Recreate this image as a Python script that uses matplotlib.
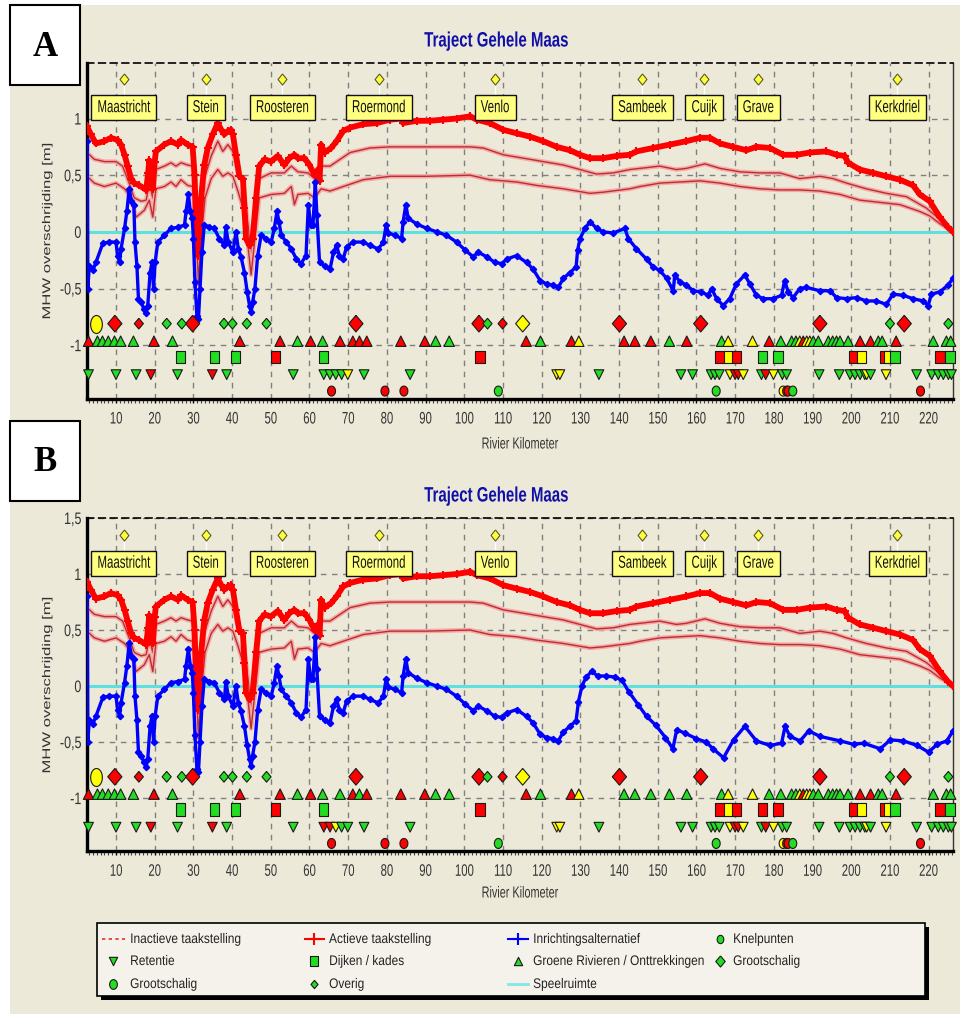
import numpy as np
import matplotlib
matplotlib.use('Agg')
import matplotlib.pyplot as plt
from matplotlib.patches import Rectangle
from matplotlib.patheffects import AbstractPathEffect
from matplotlib.transforms import Affine2D
from matplotlib.path import Path

# ---- data (river km, MHW overschrijding in m) ----

act_km = [2.5, 3.5, 4.8, 7.0, 8.7, 10.4, 11.3, 12.2, 13.0, 13.9, 14.7, 16.0, 17.8, 18.3, 18.6, 19.1,
          19.5, 20.0, 20.3, 22.5, 24.2, 26.0, 26.8, 28.5, 29.8, 30.3, 30.7, 31.1, 31.5, 32.0, 32.8,
          33.7, 35.0, 36.3, 37.2, 38.0, 38.9, 39.7, 40.2, 41.0, 41.9, 42.8, 43.2, 43.6, 44.5, 45.3,
          46.2, 47.0, 48.4, 50.0, 51.8, 53.5, 54.8, 56.1, 57.0, 58.7, 60.0, 61.3, 62.2, 62.6, 63.0,
          63.9, 65.6, 67.0, 68.7, 70.5, 73.9, 77.4, 80.8, 83.8, 84.2, 87.7, 91.1, 94.6, 98.0, 101.5,
          103.2, 106.6, 110.1, 113.5, 117.0, 120.4, 123.9, 127.3, 129.9, 132.5, 135.9, 139.4, 142.8,
          144.5, 148.8, 153.1, 157.4, 160.9, 163.5, 166.1, 169.5, 172.9, 175.5, 179.0, 182.4, 185.9,
          189.3, 193.6, 196.2, 198.3, 199.2, 202.2, 205.7, 209.1, 212.6, 216.0, 217.7, 220.3, 222.9,
          225.0, 226.3]
act_v = [0.93, 0.86, 0.78, 0.80, 0.83, 0.81, 0.77, 0.68, 0.58, 0.47, 0.43, 0.41, 0.37, 0.52, 0.63, 0.50,
         0.38, 0.62, 0.71, 0.77, 0.80, 0.77, 0.81, 0.77, 0.75, 0.50, 0.06, -0.21, -0.06, 0.30, 0.59,
         0.74, 0.86, 0.96, 0.90, 0.86, 0.89, 0.90, 0.86, 0.68, 0.49, 0.47, 0.21, -0.06, -0.12, -0.06,
         0.30, 0.58, 0.64, 0.62, 0.67, 0.59, 0.65, 0.68, 0.65, 0.65, 0.59, 0.50, 0.55, 0.45, 0.77,
         0.70, 0.74, 0.80, 0.89, 0.92, 0.95, 0.96, 0.99, 1.00, 0.96, 0.98, 0.98, 0.99, 1.00, 1.02,
         0.99, 0.96, 0.90, 0.87, 0.84, 0.80, 0.75, 0.72, 0.68, 0.65, 0.65, 0.67, 0.68,
         0.71, 0.74, 0.77, 0.80, 0.83, 0.83, 0.78, 0.75, 0.72, 0.75, 0.74, 0.68, 0.68,
         0.70, 0.71, 0.68, 0.67, 0.61, 0.55, 0.52, 0.49, 0.46, 0.41, 0.33, 0.27, 0.13,
         0.04, 0.00]

inh_km = [2.5, 4.4, 7.0, 10.0, 11.7, 13.4, 14.7, 16.5, 17.8, 18.6, 19.5, 20.3, 22.5, 24.2, 25.5, 26.8,
          28.5, 29.8, 30.7, 31.3, 32.0, 32.8, 34.6, 36.3, 37.6, 38.9, 40.2, 41.5, 42.8, 44.1, 44.9,
          45.9, 47.0, 50.1, 53.5, 55.3, 57.0, 59.6, 61.3, 63.0, 65.3, 67.9, 70.5, 75.6, 80.8, 90.0,
          101.5, 104.9, 110.1, 115.3, 120.4, 125.6, 129.9, 134.2, 138.5, 142.8, 145.4, 150.5, 154.8,
          157.4, 162.2, 166.1, 171.2, 176.4, 181.5, 186.7, 191.9, 195.3, 198.8, 203.9, 209.1, 214.3,
          219.4, 222.9, 226.3]
inh_v = [0.70, 0.64, 0.62, 0.62, 0.58, 0.43, 0.30, 0.27, 0.28, 0.43, 0.30, 0.55, 0.58, 0.61, 0.58, 0.61,
         0.59, 0.58, 0.06, -0.47, 0.00, 0.47, 0.67, 0.80, 0.71, 0.77, 0.71, 0.52, 0.44, 0.06, -0.21,
         0.12, 0.47, 0.52, 0.52, 0.58, 0.53, 0.52, 0.47, 0.58, 0.58, 0.64, 0.70, 0.74, 0.75, 0.75,
         0.75, 0.74, 0.68, 0.65, 0.62, 0.59, 0.55, 0.51, 0.52, 0.55, 0.56, 0.58, 0.55,
         0.56, 0.60, 0.56, 0.53, 0.52, 0.52, 0.47, 0.49, 0.47, 0.43, 0.38, 0.34, 0.31,
         0.21, 0.11, 0.00]

inl_km = [2.5, 4.4, 7.0, 10.0, 12.2, 13.9, 15.2, 17.3, 18.6, 19.5, 20.3, 22.5, 24.2, 25.5, 26.8, 28.5,
          29.8, 30.7, 31.3, 32.0, 33.0, 34.6, 36.3, 37.6, 38.9, 40.2, 41.5, 42.8, 44.1, 44.9, 45.9,
          47.0, 50.1, 53.5, 55.3, 56.1, 57.0, 59.6, 61.3, 63.0, 65.3, 68.7, 73.9, 80.8, 90.0, 101.5,
          106.6, 113.5, 118.7, 125.6, 132.5, 135.9, 142.8, 145.4, 150.5, 160.9, 166.1, 171.2, 176.4,
          181.5, 186.7, 191.9, 197.1, 202.2, 207.4, 212.6, 217.7, 220.3, 223.0, 226.3]
inl_v = [0.49, 0.43, 0.40, 0.43, 0.38, 0.30, 0.13, 0.19, 0.28, 0.13, 0.38, 0.40, 0.44, 0.40, 0.46, 0.41,
         0.40, 0.00, -0.44, -0.06, 0.30, 0.47, 0.55, 0.49, 0.52, 0.49, 0.36, 0.21, -0.12, -0.38, -0.06,
         0.30, 0.33, 0.34, 0.40, 0.24, 0.33, 0.34, 0.30, 0.38, 0.36, 0.40, 0.46, 0.49, 0.49, 0.50,
         0.46, 0.44, 0.41, 0.38, 0.34, 0.35, 0.38, 0.40, 0.43, 0.45, 0.43, 0.40, 0.38,
         0.37, 0.37, 0.36, 0.33, 0.28, 0.26, 0.24, 0.18, 0.14, 0.07, 0.00]

# Inrichtingsalternatief, shared part (both panels)
blue_km = [2.55, 2.7, 3.1, 4.0, 4.8, 6.6, 8.3, 10.0, 10.4, 10.9, 11.3, 12.2, 12.8, 13.4, 14.0, 14.6,
           14.9, 15.4, 15.8, 16.5, 17.2, 17.8, 18.2, 18.8, 19.3, 19.7, 20.1, 20.8, 22.5, 24.2, 25.9,
           27.7, 28.1, 28.7, 29.2, 29.7, 30.0, 30.4, 30.9, 31.3, 31.7, 32.2, 32.8, 34.1, 35.4, 36.7,
           38.0, 38.4, 39.0, 40.2, 41.0, 41.6, 42.3, 43.2, 43.9, 44.5, 44.9, 45.3, 45.9, 46.6, 47.5,
           48.8, 50.1, 50.9, 51.6, 52.1, 52.7, 54.0, 55.3, 56.6, 57.8, 59.1, 59.7, 60.3, 60.9, 61.5,
           61.9, 62.6, 63.9, 65.3, 66.2, 67.0, 67.7, 68.7, 69.6, 71.3, 73.9, 75.6, 77.8, 79.1, 79.8,
           80.4, 82.1, 83.8, 84.2, 84.9, 85.5, 87.7, 90.3, 92.9, 95.4, 98.0, 100.2, 102.3, 103.6,
           105.8, 107.9, 109.7, 111.0, 113.5, 116.1, 117.8, 119.6, 121.3, 123.0, 124.3, 125.6, 127.3,
           128.9]
blue_v = [0.80, -0.50, -0.30, -0.34, -0.27, -0.10, -0.09, -0.09, -0.21, -0.27, -0.15, 0.03, 0.18, 0.38,
          0.27, 0.24, -0.09, -0.30, -0.59, -0.62, -0.68, -0.72, -0.65, -0.36, -0.27, -0.50, -0.27, -0.09,
          -0.03, 0.03, 0.04, 0.06, 0.18, 0.33, 0.18, 0.12, -0.06, -0.44, -0.74, -0.77, -0.50, -0.18,
          0.06, 0.04, 0.03, -0.06, -0.12, 0.04, -0.09, -0.18, 0.00, -0.15, -0.22, -0.36, -0.53, -0.65,
          -0.71, -0.62, -0.50, -0.21, -0.03, -0.06, -0.09, 0.03, 0.18, 0.09, -0.03, -0.09, -0.15,
          -0.24, -0.28, -0.21, 0.24, 0.06, 0.06, 0.44, 0.15, -0.27, -0.30, -0.33, -0.18, -0.12,
          -0.21, -0.24, -0.13, -0.09, -0.09, -0.12, -0.15, -0.09, 0.06, -0.01, -0.03, -0.06, 0.09,
          0.24, 0.12, 0.07, 0.03, 0.00, -0.03, -0.09, -0.16, -0.22, -0.18, -0.22, -0.27, -0.28,
          -0.24, -0.21, -0.27, -0.33, -0.43, -0.46, -0.47, -0.49, -0.41, -0.36, -0.31]

# downstream part, panel A
tail_a_km = [129.3, 129.9, 131.2, 132.5, 134.2, 135.9, 138.5, 141.5, 142.4, 144.5, 147.1, 148.8, 150.5,
             152.3, 154.0, 154.4, 155.7, 157.4, 159.2, 161.3, 163.0, 163.9, 165.2, 166.9, 168.6, 170.3,
             172.5, 173.8, 175.5, 177.2, 179.8, 182.0, 182.8, 183.7, 185.0, 186.7, 188.4, 191.9, 194.5,
             196.2, 198.8, 201.4, 203.9, 206.5, 209.1, 210.8, 213.4, 216.0, 218.6, 219.9, 220.7, 222.9,
             225.0, 226.3]
tail_a_v = [-0.16, -0.06, 0.03, 0.09, 0.03, 0.00, -0.01, 0.03, -0.06, -0.15, -0.24, -0.31, -0.34,
            -0.41, -0.52, -0.38, -0.44, -0.47, -0.52, -0.53, -0.56, -0.50, -0.59, -0.65, -0.59, -0.46,
            -0.38, -0.46, -0.56, -0.59, -0.59, -0.56, -0.43, -0.53, -0.58, -0.50, -0.49, -0.52, -0.52,
            -0.58, -0.59, -0.58, -0.61, -0.61, -0.64, -0.55, -0.56, -0.59, -0.61, -0.65, -0.55, -0.53,
            -0.47, -0.41]

# downstream part, panel B
tail_b_km = [129.5, 130.4, 131.5, 132.9, 134.5, 136.5, 139.0, 140.8, 142.5, 145.0, 147.1, 149.5, 152.0,
             153.9, 154.9, 157.0, 160.0, 162.5, 164.3, 167.0, 169.6, 172.5, 175.5, 179.0, 182.0, 182.9,
             184.2, 186.8, 189.0, 192.0, 197.2, 200.6, 203.2, 207.5, 210.1, 213.5, 217.0, 220.0, 222.2,
             224.7, 226.3]
tail_b_v = [-0.14, 0.00, 0.08, 0.13, 0.09, 0.09, 0.08, 0.05, -0.05, -0.17, -0.27, -0.35, -0.46,
            -0.56, -0.39, -0.42, -0.47, -0.50, -0.56, -0.64, -0.48, -0.36, -0.49, -0.53, -0.51, -0.36,
            -0.45, -0.49, -0.40, -0.45, -0.49, -0.52, -0.51, -0.56, -0.48, -0.49, -0.53, -0.59, -0.52,
            -0.49, -0.40]

cities = ['Maastricht', 'Stein', 'Roosteren', 'Roermond', 'Venlo', 'Sambeek', 'Cuijk', 'Grave', 'Kerkdriel']
city_km = [12.0, 33.2, 53.0, 77.9, 108.0, 146.0, 162.0, 176.0, 211.9]

# measures (r = red, g = green, y = yellow)
dia_big_km = [9.7, 29.8, 72.0, 103.8, 115.1, 140.1, 161.1, 191.9, 213.7]
dia_big_c = ['r', 'r', 'r', 'r', 'y', 'r', 'r', 'r', 'r']
dia_small_km = [15.9, 23.1, 27.0, 37.9, 40.1, 43.8, 48.9, 106.0, 109.9, 210.0, 225.1]
dia_small_c = ['r', 'g', 'g', 'g', 'g', 'g', 'g', 'g', 'r', 'g', 'g']
ell_km = [4.7]
ell_c = ['y']

up_km = [2.9, 5.2, 6.5, 8.0, 9.6, 11.2, 14.5, 19.8, 24.6, 42.0, 52.4, 56.9, 60.3, 63.4, 67.9, 71.2,
         72.9, 74.8, 83.6, 89.8, 92.6, 96.1, 116.0, 119.7, 127.7, 129.6, 141.3, 144.1, 148.2, 153.0,
         157.5, 166.5, 168.2, 174.5, 178.8, 181.8, 184.6, 185.7, 186.7, 187.6, 188.5, 189.3, 190.2,
         191.5, 194.1, 195.2, 196.2, 197.1, 199.2, 202.3, 205.0, 207.0, 208.0, 211.6, 221.2, 224.6, 225.7]
up_c_a = ['r', 'g', 'g', 'g', 'g', 'g', 'g', 'r', 'g', 'r', 'r', 'g', 'r', 'g', 'r', 'r',
          'r', 'r', 'r', 'r', 'g', 'g', 'r', 'g', 'r', 'y', 'r', 'r', 'r', 'g',
          'r', 'g', 'y', 'y', 'r', 'g', 'g', 'g', 'y', 'r', 'y', 'y', 'g',
          'g', 'g', 'g', 'g', 'g', 'g', 'r', 'r', 'g', 'g', 'r', 'g', 'g', 'g']
up_c_b = ['r', 'g', 'g', 'g', 'g', 'g', 'g', 'r', 'g', 'r', 'r', 'g', 'r', 'g', 'g', 'r',
          'g', 'r', 'r', 'r', 'g', 'g', 'r', 'g', 'r', 'y', 'g', 'g', 'g', 'g',
          'g', 'g', 'y', 'y', 'g', 'g', 'g', 'g', 'y', 'r', 'y', 'y', 'g',
          'g', 'g', 'g', 'g', 'g', 'g', 'r', 'r', 'g', 'g', 'r', 'g', 'g', 'g']

sq_km = [26.7, 35.4, 40.9, 51.2, 63.6, 104.1, 166.1, 168.2, 170.4, 177.1, 181.1, 200.5, 202.7,
         208.7, 209.6, 211.3, 222.9, 225.5]
sq_c_a = ['g', 'g', 'g', 'r', 'g', 'r', 'r', 'y', 'r', 'g', 'g', 'r', 'y', 'r', 'y', 'g', 'r', 'g']
sq_c_b = ['g', 'g', 'g', 'r', 'g', 'r', 'r', 'y', 'r', 'r', 'r', 'r', 'y', 'r', 'y', 'g', 'r', 'g']

dn_km = [2.9, 10.0, 15.2, 19.0, 25.9, 34.9, 38.6, 55.8, 63.7, 65.3, 66.8, 68.3, 69.9, 74.1, 86.0,
         123.9, 124.7, 134.8, 156.0, 159.0, 163.8, 164.8, 165.9, 168.7, 170.0, 170.8, 172.1, 176.8,
         177.9, 179.9, 182.2, 183.3, 191.7, 196.9, 199.7, 201.0, 202.3, 203.5, 204.0, 205.0, 209.0,
         216.9, 220.8, 222.5, 223.8, 225.1, 225.9]
dn_c_a = ['g', 'g', 'g', 'r', 'g', 'r', 'g', 'g', 'g', 'g', 'g', 'g', 'y', 'g', 'g',
          'y', 'y', 'g', 'g', 'g', 'g', 'g', 'g', 'y', 'r', 'r', 'y', 'g',
          'r', 'y', 'g', 'g', 'g', 'g', 'g', 'g', 'g', 'g', 'y', 'g', 'y',
          'g', 'g', 'g', 'g', 'g', 'g']
dn_c_b = ['g', 'g', 'g', 'r', 'g', 'r', 'g', 'g', 'r', 'r', 'y', 'g', 'g', 'g', 'g',
          'y', 'y', 'g', 'g', 'g', 'g', 'g', 'g', 'y', 'r', 'r', 'y', 'g',
          'r', 'y', 'g', 'g', 'g', 'g', 'g', 'g', 'g', 'g', 'y', 'g', 'y',
          'g', 'g', 'g', 'g', 'g', 'g']

kn_km = [65.7, 79.5, 84.4, 108.8, 165.1, 182.4, 183.3, 183.7, 184.9, 217.9]
kn_c = ['r', 'r', 'r', 'g', 'g', 'y', 'r', 'r', 'g', 'r']


# the screenshot is squeezed sideways, so the text is too
class Squeeze(AbstractPathEffect):
    def __init__(self, sx=1.0, sy=1.0, anchor='center'):
        super().__init__()
        self.sx, self.sy, self.anchor = sx, sy, anchor

    def draw_path(self, renderer, gc, tpath, affine, rgbFace=None):
        v = tpath.vertices
        if tpath.codes is not None:
            v = v[tpath.codes != Path.CLOSEPOLY]
        if len(v) == 0:
            return renderer.draw_path(gc, tpath, affine, rgbFace)
        x0, x1 = v[:, 0].min(), v[:, 0].max()
        cx = {'left': x0, 'right': x1}.get(self.anchor, (x0 + x1) / 2)
        cy = (v[:, 1].min() + v[:, 1].max()) / 2
        sq = Affine2D().translate(-cx, -cy).scale(self.sx, self.sy).translate(cx, cy)
        renderer.draw_path(gc, tpath, sq + affine, rgbFace)


FONT = 'Liberation Sans'
SX = 0.68

# ---- styling ----
COL = {'r': '#FF0000', 'g': '#22DD22', 'y': '#FFFF00'}
BEIGE = '#ECE9D8'
DIAMOND = [(0, 1), (0.85, 0), (0, -1), (-0.85, 0), (0, 1)]
CITY_DIAMOND = [(0, 1), (0.8, 0), (0, -1), (-0.8, 0), (0, 1)]
BOX = [(-0.73, -1), (0.73, -1), (0.73, 1), (-0.73, 1), (-0.73, -1)]
t = np.linspace(0, 2 * np.pi, 25)
ELLIPSE = list(zip(0.8 * np.cos(t), np.sin(t)))
ELLIPSE_TALL = list(zip(0.65 * np.cos(t), np.sin(t)))

Y_ROW = {'dia': -0.81, 'up': -0.965, 'sq': -1.104, 'dn': -1.26, 'kn': -1.405}


def marks(ax, km, cols, y, marker, ms):
    ax.scatter(km, [y] * len(km), c=[COL[c] for c in cols], marker=marker, s=ms ** 2,
               edgecolors='#1a1a1a', linewidths=0.8, zorder=6, clip_on=False)


def draw_panel(ax, bkm, bv, up_c, sq_c, dn_c, top_label, renderer):
    ax.set_facecolor('none')
    ax.set_xlim(2.5, 226.3)
    ax.set_ylim(-1.475, 1.49)
    ax.set_axisbelow(True)

    # lines
    ax.axhline(0, color='#5EE0E0', lw=2.2, zorder=2)
    for km, v in [(inh_km, inh_v), (inl_km, inl_v)]:
        ax.plot(km, v, color='#F7A8A8', lw=3.2, zorder=3, solid_joinstyle='round')
        ax.plot(km, v, color='#B83030', lw=1.0, zorder=3)
    ax.plot(act_km, act_v, color='#FF0000', lw=4.2, marker='+', ms=6, mew=1.5, zorder=4)
    ax.plot(bkm, bv, color='#0000FF', lw=2.4, marker='D', ms=3.2, zorder=5)

    # measure rows
    marks(ax, dia_big_km, dia_big_c, Y_ROW['dia'], DIAMOND, 12)
    marks(ax, dia_small_km, dia_small_c, Y_ROW['dia'], DIAMOND, 7.7)
    marks(ax, ell_km, ell_c, Y_ROW['dia'], ELLIPSE_TALL, 13)
    marks(ax, up_km, up_c, Y_ROW['up'], '^', 7.5)
    marks(ax, sq_km, sq_c, Y_ROW['sq'], BOX, 9.2)
    marks(ax, dn_km, dn_c, Y_ROW['dn'], 'v', 7)
    marks(ax, kn_km, kn_c, Y_ROW['kn'], ELLIPSE, 7.2)

    # city labels, box sized to the squeezed text
    km_per_px = (226.3 - 2.5) / ax.bbox.width
    v_per_px = (1.49 + 1.475) / ax.bbox.height
    for name, km in zip(cities, city_km):
        ax.plot([km, km], [1.17, 1.33], color='white', lw=1, zorder=6)
        ax.scatter([km], [1.35], marker=CITY_DIAMOND, s=8 ** 2, c='#FFFF40',
                   edgecolors='#5a5a20', linewidths=0.8, zorder=7)
        txt = ax.text(km, 1.096, name, ha='center', va='center', fontsize=12.5, color='#111111',
                      family=FONT, zorder=9, path_effects=[Squeeze(sx=0.66)])
        w = (txt.get_window_extent(renderer).width * 0.66 + 12) * km_per_px
        h = 25 * v_per_px
        ax.add_patch(Rectangle((km - w / 2, 1.096 - h / 2), w, h, fc='#FFFF80', ec='#111111',
                               lw=1, zorder=8))

    # axes
    ax.grid(True, color='#808080', ls=(0, (4, 4)), lw=1)
    yt = [-1, -0.5, 0, 0.5, 1]
    yl = ['-1', '-0,5', '0', '0,5', '1']
    if top_label:
        yt.append(1.5)
        yl.append('1,5')
    ax.set_yticks(yt)
    ax.set_yticklabels(yl, fontsize=12, color='#333333', family=FONT)
    ax.set_xticks(range(10, 221, 10))
    ax.set_xticklabels([str(k) for k in range(10, 221, 10)], fontsize=12, color='#333333', family=FONT)
    ax.set_xticks(range(3, 227), minor=True)
    for lab in ax.get_xticklabels():
        lab.set_path_effects([Squeeze(sx=SX)])
    for lab in ax.get_yticklabels():
        lab.set_path_effects([Squeeze(sx=0.75, anchor='right')])
    ax.tick_params(axis='y', length=0, pad=4)
    ax.tick_params(axis='x', which='major', length=3, width=1, pad=6, color='black')
    ax.tick_params(axis='x', which='minor', length=3, width=0.8, color='#444444')
    for s in ['left', 'bottom']:
        ax.spines[s].set_linewidth(2.4)
        ax.spines[s].set_color('black')
    ax.spines['top'].set_linestyle((0, (4, 3)))
    ax.spines['top'].set_linewidth(1.2)
    ax.spines['right'].set_color('#333333')
    ax.spines['right'].set_linewidth(1)


W, H = 969, 1020
fig = plt.figure(figsize=(W / 100, H / 100), dpi=100)
fig.patch.set_facecolor('white')
renderer = fig.canvas.get_renderer()

# pixel canvas for background, panel letters, titles and legend
bg = fig.add_axes([0, 0, 1, 1], zorder=-1)
bg.set_xlim(0, W)
bg.set_ylim(H, 0)
bg.axis('off')
bg.add_patch(Rectangle((10, 6), 950, 1009, fc=BEIGE, ec='none'))

axA = fig.add_axes([87 / W, 1 - 400 / H, 866 / W, 336 / H])
axB = fig.add_axes([87 / W, 1 - 852.3 / H, 866 / W, 333.3 / H])
draw_panel(axA, blue_km + tail_a_km, blue_v + tail_a_v, up_c_a, sq_c_a, dn_c_a, False, renderer)
draw_panel(axB, blue_km + tail_b_km, blue_v + tail_b_v, up_c_b, sq_c_b, dn_c_b, True, renderer)

for letter, y0, ty, xl_y, yc in [('A', 6, 42, 445, 232), ('B', 422, 497, 894, 686)]:
    bg.add_patch(Rectangle((10, y0), 70, 80, fc='white', ec='black', lw=1.5))
    bg.text(45, y0 + 41, letter, ha='center', va='center', fontsize=25, fontweight='bold',
            family='Liberation Serif')
    bg.text(497, ty, 'Traject Gehele Maas', ha='center', va='center', fontsize=15,
            fontweight='bold', color='#1010A8', family=FONT, path_effects=[Squeeze(sx=0.72)])
    bg.text(47, yc, 'MHW overschrijding [m]', ha='center', va='center', rotation=90,
            fontsize=12, color='#333333', family=FONT, path_effects=[Squeeze(sy=0.68)])
    bg.text(520, xl_y, 'Rivier Kilometer', ha='center', va='center',
            fontsize=11.5, color='#333333', family=FONT, path_effects=[Squeeze(sx=SX)])

# legend box
bg.add_patch(Rectangle((101, 928), 828, 73, fc='black', ec='none'))
bg.add_patch(Rectangle((97, 924), 828, 73, fc='#F4F2EA', ec='black', lw=1.2))
rows = [940, 962, 985]
cols_x = [(102, 125), (305, 324), (508, 528), (712, 728)]
legend_items = [
    (0, 0, 'Inactieve taakstelling', 'inact'),
    (1, 0, 'Actieve taakstelling', 'act'),
    (2, 0, 'Inrichtingsalternatief', 'inr'),
    (3, 0, 'Knelpunten', 'kn'),
    (0, 1, 'Retentie', 'dn'),
    (1, 1, 'Dijken / kades', 'sq'),
    (2, 1, 'Groene Rivieren / Onttrekkingen', 'up'),
    (3, 1, 'Grootschalig', 'dia'),
    (0, 2, 'Grootschalig', 'ell'),
    (1, 2, 'Overig', 'dsmall'),
    (2, 2, 'Speelruimte', 'speel'),
]
gcol = COL['g']
for ci, ri, label, kind in legend_items:
    x0, x1 = cols_x[ci]
    xm = (x0 + x1) / 2
    y = rows[ri]
    if kind == 'inact':
        bg.plot([x0, x1], [y, y], color='#E03030', lw=1.2, ls=(0, (2, 2)))
    elif kind == 'act':
        bg.plot([x0, x1], [y, y], color='#FF0000', lw=1.5)
        bg.plot([xm], [y], marker='+', color='#FF0000', ms=8, mew=1.5)
    elif kind == 'inr':
        bg.plot([x0, x1], [y, y], color='#0000FF', lw=1.5)
        bg.plot([xm], [y], marker='+', color='#0000FF', ms=8, mew=1.5)
    elif kind == 'speel':
        bg.plot([x0, x1], [y, y], color='#80E8E8', lw=2)
    else:
        shape, ms = {'kn': (ELLIPSE, 6), 'dn': ('v', 6), 'sq': (BOX, 7), 'up': ('^', 6),
                     'dia': (DIAMOND, 8), 'ell': (ELLIPSE, 7), 'dsmall': (DIAMOND, 6)}[kind]
        bg.scatter([xm], [y], marker=shape, s=ms ** 2, c=gcol, edgecolors='#1a1a1a', linewidths=0.8)
    bg.text(x1 + 5, y, label, ha='left', va='center', fontsize=10, color='#222222', family=FONT,
            path_effects=[Squeeze(sx=0.86, anchor='left')])

fig.savefig('out.png', dpi=100, facecolor=fig.get_facecolor())
